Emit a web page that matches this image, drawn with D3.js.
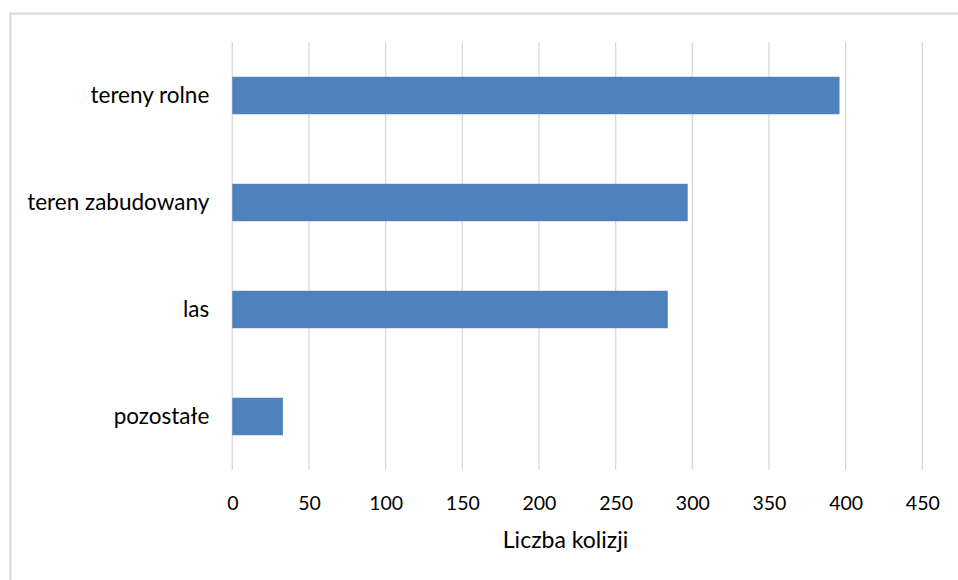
<!DOCTYPE html>
<html>
<head>
<meta charset="utf-8">
<script src="https://cdn.jsdelivr.net/npm/d3@7"></script>
<style>
  html, body { margin: 0; padding: 0; background: #fff; }
  svg text { font-family: Lato, "Open Sans", sans-serif; fill: #000; }
</style>
</head>
<body>
<svg id="chart" width="958" height="580"></svg>
<script>
// Collisions by land-cover type
const categories = ["tereny rolne", "teren zabudowany", "las", "pozostałe"];
const values = [396, 297, 284, 33];
const xTicks = [0, 50, 100, 150, 200, 250, 300, 350, 400, 450];
const xTitle = "Liczba kolizji";

const svg = d3.select("#chart");
const W = 958, H = 580;
const plot = { left: 232.3, right: 922.3, top: 42, bottom: 470 };

// Outer chart-area frame (runs off the right and bottom edges)
svg.append("rect")
  .attr("x", 10.5).attr("y", 13.5)
  .attr("width", W + 20).attr("height", H + 20)
  .attr("fill", "#fff")
  .attr("stroke", "#d9d9d9")
  .attr("stroke-width", 2);

const x = d3.scaleLinear().domain([0, 450]).range([plot.left, plot.right]);
const y = d3.scaleBand().domain(categories).range([plot.top, plot.bottom]).paddingInner(0.65).paddingOuter(0.325);

// Vertical gridlines
svg.append("g")
  .selectAll("line")
  .data(xTicks)
  .join("line")
  .attr("x1", d => x(d)).attr("x2", d => x(d))
  .attr("y1", plot.top).attr("y2", plot.bottom)
  .attr("stroke", "#d9d9d9")
  .attr("stroke-width", 1.3);

// Bars
svg.append("g")
  .selectAll("rect")
  .data(categories)
  .join("rect")
  .attr("x", x(0))
  .attr("y", d => y(d))
  .attr("width", (d, i) => x(values[i]) - x(0))
  .attr("height", y.bandwidth())
  .attr("fill", "#4f81bd");

// X tick labels
const xAxis = d3.axisBottom(x).tickValues(xTicks).tickSize(0).tickPadding(0);
const gx = svg.append("g").attr("transform", `translate(0, ${plot.bottom + 26})`).call(xAxis);
gx.select(".domain").remove();
gx.selectAll("text").attr("font-size", 19.5).attr("font-family", null).attr("fill", "#000");

// Category labels
const yAxis = d3.axisLeft(y).tickSize(0).tickPadding(0);
const gy = svg.append("g").attr("transform", `translate(${plot.left - 23}, 0)`).call(yAxis);
gy.select(".domain").remove();
gy.selectAll("text").attr("font-size", 22.5).attr("font-family", null).attr("fill", "#000");

// Axis title
svg.append("text")
  .attr("x", 565.5)
  .attr("y", 548)
  .attr("text-anchor", "middle")
  .attr("font-size", 23)
  .text(xTitle);
</script>
</body>
</html>
